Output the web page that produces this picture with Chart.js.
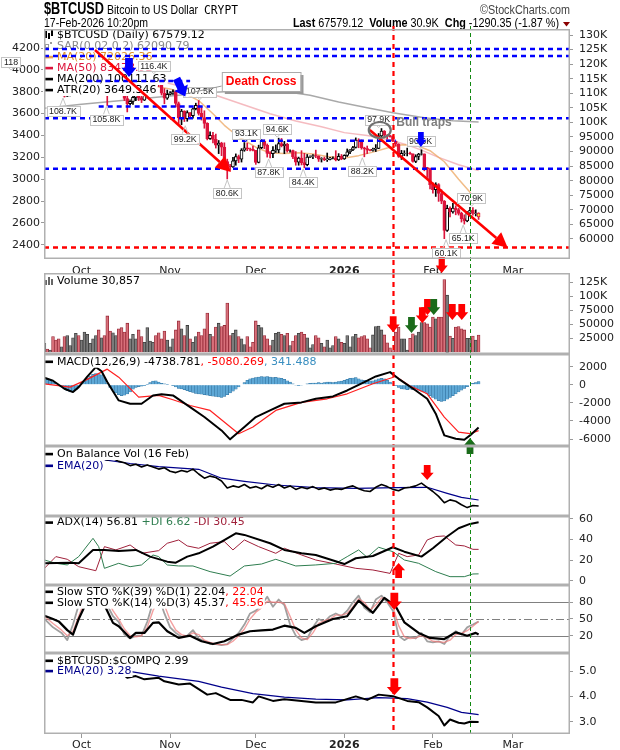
<!DOCTYPE html>
<html>
<head>
<meta charset="utf-8">
<title>$BTCUSD Daily</title>
<script src="https://cdn.jsdelivr.net/npm/chart.js@4.4.1/dist/chart.umd.min.js"></script>
<style>
  html, body { margin: 0; padding: 0; background: #fff; }
  #wrap { position: relative; width: 620px; height: 750px; overflow: hidden; background: #fff; }
  #wrap canvas { position: absolute; left: 0; }
</style>
</head>
<body>
<div id="wrap">
  <canvas id="cPrice" width="620" height="273" style="top:0;width:620px;height:273px"></canvas>
  <canvas id="cVol" width="620" height="81" style="top:273px;width:620px;height:81px"></canvas>
  <canvas id="cMacd" width="620" height="92" style="top:354px;width:620px;height:92px"></canvas>
  <canvas id="cObv" width="620" height="70" style="top:446px;width:620px;height:70px"></canvas>
  <canvas id="cAdx" width="620" height="76" style="top:509px;width:620px;height:76px"></canvas>
  <canvas id="cSto" width="620" height="68" style="top:585px;width:620px;height:68px"></canvas>
  <canvas id="cRel" width="620" height="97" style="top:653px;width:620px;height:97px"></canvas>
</div>
<script>
// ---- data (prices in thousands of USD, day 0 = 1-Oct-2025) ----
const startDay = -13;        // first candle: 18-Sep-2025
const firstOpen = 116.5;
const closes = [
  117.1, 115.7, 115.7, 115.3, 112.7, 112.0, 113.3, 109.0, 109.7, 109.7, 112.1, 114.4, 113.9,
  118.6, 120.6, 122.3, 122.4, 123.5, 124.8, 121.4, 123.3, 121.7, 113.2, 110.7, 115.0, 115.3, 113.0, 110.8, 108.2,
  106.4, 107.2, 108.6, 110.6, 108.5, 107.6, 110.1, 111.0, 111.6, 114.5, 114.1, 113.0, 110.0, 108.3, 109.6,
  110.1, 110.6, 106.5, 101.6, 103.9, 101.3, 103.4, 102.3, 104.7, 105.9, 103.1, 101.7, 99.7, 94.4, 95.6,
  94.2, 92.2, 92.9, 91.5, 86.6, 85.1, 84.7, 86.8, 88.3, 87.4, 90.5, 91.3, 90.9, 90.8, 90.4,
  86.3, 91.3, 93.5, 92.1, 89.4, 89.3, 90.4, 90.6, 92.7, 92.0, 92.5, 90.3, 90.3, 88.2, 86.4, 87.8,
  86.2, 85.5, 88.1, 88.3, 88.6, 88.5, 87.4, 87.6, 87.2, 87.3, 87.8, 87.8, 87.1, 88.4, 87.5,
  88.7, 89.9, 90.6, 91.4, 93.9, 93.7, 91.3, 91.0, 90.5, 90.4, 90.8, 91.1, 95.4, 97.0, 95.6, 95.5,
  95.1, 93.6, 92.6, 88.3, 89.4, 89.5, 89.5, 89.2, 86.6, 88.3, 89.1, 89.2, 84.5, 84.1, 78.6,
  76.9, 78.7, 75.6, 73.0, 62.9, 70.5, 69.3, 70.6, 70.1, 68.8, 67.0, 66.2, 68.9, 69.8, 68.8, 68.87, 67.58
];
const highs = [
  117.9, 117.5, 116.2, 115.9, 115.4, 113.3, 114.0, 113.4, 110.4, 109.9, 112.3, 114.5, 114.8,
  118.7, 121.0, 123.9, 122.9, 125.5, 126.1, 125.0, 124.1, 123.7, 122.5, 113.4, 115.5, 116.0, 115.6, 113.6, 111.1,
  109.2, 107.5, 109.5, 111.8, 114.0, 109.2, 111.3, 112.0, 111.9, 114.9, 116.4, 116.0, 113.6, 111.6, 111.1,
  110.6, 111.2, 110.7, 107.0, 104.5, 104.0, 104.0, 103.4, 105.0, 106.6, 107.5, 105.3, 104.0, 99.9, 96.8,
  96.6, 96.0, 93.8, 93.2, 93.0, 87.4, 85.6, 88.0, 89.2, 88.8, 91.0, 93.1, 92.9, 91.2, 91.9,
  90.4, 92.2, 94.1, 94.0, 92.6, 90.0, 91.7, 92.3, 94.6, 94.5, 93.5, 92.8, 90.6, 90.5, 90.0, 88.1,
  90.3, 89.4, 89.0, 88.5, 89.0, 90.5, 88.5, 87.9, 88.1, 89.5, 88.0, 88.2, 90.3, 89.3, 89.0,
  88.9, 90.9, 90.7, 91.8, 94.7, 94.4, 94.0, 91.5, 91.9, 90.8, 91.2, 92.4, 96.2, 97.9, 97.2, 95.8,
  95.6, 95.5, 93.6, 92.7, 90.4, 90.3, 91.2, 89.8, 89.2, 88.9, 89.4, 90.6, 89.2, 84.6, 84.3,
  79.3, 79.3, 79.0, 76.9, 73.2, 71.6, 71.0, 72.2, 71.4, 70.5, 69.2, 68.3, 69.4, 70.9, 70.8, 70.0, 69.0
];
const lows = [
  116.2, 115.2, 115.4, 115.0, 112.0, 111.1, 111.5, 108.7, 108.9, 109.1, 109.3, 111.6, 112.7,
  113.6, 118.2, 119.3, 121.7, 122.0, 123.0, 120.6, 121.1, 119.6, 105.8, 109.6, 109.7, 113.0, 110.0, 110.2, 107.5,
  103.6, 106.0, 106.2, 107.5, 107.5, 106.8, 107.5, 109.8, 110.8, 111.3, 113.8, 112.3, 109.4, 106.4, 107.9,
  109.4, 109.6, 105.3, 99.6, 99.2, 100.3, 100.4, 101.5, 101.5, 104.3, 102.5, 100.8, 98.0, 94.0, 94.2,
  93.0, 91.2, 89.3, 88.6, 86.3, 80.6, 83.5, 84.6, 85.3, 86.2, 86.4, 90.1, 90.3, 90.2, 90.2,
  85.6, 86.1, 91.0, 91.0, 88.1, 87.8, 87.9, 89.7, 89.6, 91.6, 89.3, 89.8, 89.8, 87.6, 85.3, 85.3,
  85.4, 84.4, 85.1, 87.9, 87.6, 87.9, 86.6, 86.4, 86.9, 86.6, 87.1, 87.5, 86.8, 86.9, 87.2,
  87.3, 88.3, 89.3, 90.3, 91.2, 91.3, 90.8, 88.2, 89.3, 90.2, 90.1, 90.0, 91.0, 94.8, 95.0, 94.3,
  94.9, 93.4, 91.9, 88.0, 87.3, 88.6, 88.5, 89.0, 86.4, 86.2, 87.2, 88.8, 83.4, 81.1, 77.2,
  75.7, 74.6, 72.9, 72.1, 60.1, 62.6, 67.6, 68.9, 68.3, 68.2, 65.8, 65.1, 65.9, 68.7, 68.2, 67.9, 66.7
];
// daily volume, thousands
const volumes = [
  16, 6, 4, 28, 22, 24, 10, 28, 30, 12, 26, 34, 30,
  22, 36, 32, 16, 24, 30, 40, 26, 30, 65, 38, 35, 30, 42, 44, 36,
  52, 24, 32, 24, 40, 28, 18, 44, 20, 18, 30, 35, 24, 38, 22,
  10, 24, 40, 56, 42, 30, 48, 24, 18, 28, 36, 30, 42, 70, 32,
  28, 45, 52, 46, 48, 88, 30, 34, 40, 28, 24, 14, 28, 10, 18,
  56, 48, 44, 30, 24, 12, 22, 34, 36, 32, 30, 34, 12, 20, 30, 34,
  36, 32, 26, 8, 14, 30, 26, 16, 10, 22, 8, 12, 28, 24, 18,
  16, 30, 10, 28, 32, 26, 28, 30, 24, 8, 31, 46, 47, 40, 31, 17,
  8, 3, 36, 45, 24, 24, 4, 25, 33, 30, 36, 53, 53, 51, 45,
  63, 60, 63, 63, 130, 102, 29, 25, 45, 46, 42, 40, 25, 25, 29, 22, 30.857
];
const macdHist = [
  700, 600, 450, 300, 150, 0, -200, -450, -650, -800, -750, -550, -250,
  100, 400, 700, 950, 1150, 1250, 1200, 1100, 800, 200, -300, -600, -900, -1100, -1200, -1150,
  -1000, -800, -500, -300, -200, -150, -100, 50, 250, 400, 450, 300, 150, 100, 50,
  0, -100, -250, -400, -450, -550, -650, -750, -850, -950, -1000, -1050, -1100, -1150, -1200,
  -1250, -1300, -1350, -1400, -1300, -1100, -900, -700, -500, -250, 0, 250, 500, 650, 750,
  800, 850, 900, 880, 900, 850, 800, 820, 780, 700, 600, 450, 300, 100, -50, -100,
  -50, 0, 100, 150, 200, 200, 250, 200, 250, 300, 300, 250, 300, 350, 400,
  500, 600, 700, 750, 800, 650, 550, 500, 450, 400, 450, 550, 650, 700, 650, 500,
  300, 100, -100, -300, -450, -500, -550, -500, -550, -500, -600, -700, -800, -1000, -1200,
  -1400, -1600, -1750, -1850, -1800, -1600, -1400, -1200, -1000, -800, -600, -400, -200, 0, 150, 250, 341
];
// [day, value] readings for the line studies
const ma20 = [[-13,113.5],[-5,114.5],[0,114.5],[5,116],[10,117.5],[15,116],[20,114],[25,112.5],[31,111.5],[36,110],[41,107.5],[46,103],[50,99],[55,95],[61,91.5],[66,89.5],[71,89.3],[76,89.6],[81,89.2],[86,88.3],[92,87.8],[97,88.6],[102,89.8],[107,91.2],[112,92.3],[117,92.2],[122,90.3],[127,86.5],[132,80.5],[136,76],[139,72.03]];
const ma50 = [[-13,112.5],[0,113],[10,114],[20,114.5],[30,113.5],[39,111.5],[48,109],[57,106],[66,103],[75,100.5],[84,98.5],[92,96.5],[100,95.5],[108,94],[114,92.3],[119,90.5],[125,88],[132,85.5],[139,83.48]];
const ma200 = [[-13,104.9],[0,106.2],[15,107.6],[30,109],[45,110.3],[60,111],[70,110.8],[80,109.3],[90,107],[100,105],[109,103.3],[120,101.6],[130,100.6],[139,100.11]];
const macdLine = [[-13,770],[-10,440],[-6,-440],[-3,-810],[-1,-260],[2,900],[5,1950],[7,1500],[9,300],[13,-1730],[17,-2100],[21,-2100],[25,-1180],[28,-1050],[32,-1180],[38,-2470],[43,-3570],[49,-5050],[52,-6040],[57,-4680],[61,-3570],[66,-2840],[71,-2100],[77,-1950],[82,-1550],[88,-1290],[93,-630],[99,290],[103,920],[108,1400],[111,660],[117,-630],[121,-1550],[124,-3200],[127,-5600],[131,-5970],[134,-6080],[136,-5600],[139,-4739]];
const macdSignal = [[-13,110],[-4,-260],[2,600],[9,1730],[13,840],[20,-1370],[27,-1180],[32,-1660],[38,-2290],[45,-2840],[55,-5410],[60,-4680],[68,-2840],[77,-1950],[86,-1550],[93,-1000],[102,110],[110,920],[115,-130],[121,-1000],[127,-3570],[132,-5230],[136,-5410],[139,-5080]];
const obv = [[-13,92],[-10,90],[-7,93],[-4,89],[-1,92],[2,88],[5,84],[7,82.4],[9,80],[11,82],[13,78],[15,76],[17,72],[19,74],[21,70],[23,73],[25,70],[27,67],[29,69],[31,64],[33,62],[35,65],[37,63],[39,67],[41,60],[43,54],[45,57],[47,55],[49,50],[51,40],[53,43],[55,41],[57,45],[59,40],[61,42],[63,39],[65,44],[67,41],[69,45],[71,40],[73,43],[75,38],[77,41],[79,39],[81,42],[83,38],[85,40],[87,37],[89,39],[91,38],[93,41],[95,43],[97,39],[99,36],[101,35],[103,41],[105,45],[107,42],[109,38],[111,36],[113,40],[115,41],[117,43],[119,47],[121,41],[123,35],[125,28],[127,19],[129,23],[131,21],[133,16],[135,12],[137,15],[139,14.3]];
const obvEma = [[-13,88],[-5,86],[5,82],[17,75],[27,70.5],[41,66.7],[49,54],[57,49.5],[68,44.3],[82,40.5],[96,39.5],[110,40.5],[121,41],[128,32.4],[133,26.7],[139,22.9]];
const adx = [[-13,16.9],[-4,17.5],[-1,16.9],[4,29.9],[8,29.9],[13,28.9],[19,29.9],[24,23.4],[30,18.5],[33,17.5],[37,23.4],[41,26.6],[46,33.1],[51,41.2],[54,46.1],[57,44.5],[66,36.4],[71,29.9],[77,26.6],[82,25],[92,16.2],[96,21.8],[102,24],[109,32.5],[113,28.2],[119,23.4],[123,31.5],[128,42.9],[132,51],[136,55.2],[139,56.81]];
const plusDI = [[-13,20.1],[-9,16.9],[-5,15.3],[-1,23.4],[4,41.2],[6,33.1],[8,12],[13,16.9],[17,13.6],[21,15.3],[25,25],[27,23.4],[30,15.3],[34,14.3],[39,14.3],[45,8.8],[52,4.5],[57,14.3],[63,16.2],[68,20.8],[75,14.3],[82,15.3],[89,16.9],[93,23.4],[97,29.9],[100,22.7],[104,32.5],[109,28.2],[113,20.1],[118,16.9],[124,8.8],[129,3.9],[134,3.9],[137,6.5],[139,6.62]];
const minusDI = [[-13,12],[-9,23.4],[-5,20.8],[-1,13.6],[5,9.7],[8,33.1],[12,29.9],[17,34.7],[21,26.6],[27,29.2],[30,36.4],[34,39.6],[37,33.8],[41,31.5],[45,36.4],[50,38],[53,29.9],[57,39.6],[62,33.1],[68,26.6],[71,31.5],[77,25],[82,20.1],[89,16.2],[96,12],[102,10.4],[108,7.1],[111,26.6],[114,23.4],[118,25],[121,39.6],[124,42.9],[127,43.5],[131,34.7],[134,33.8],[137,30.5],[139,30.45]];
const stoK39 = [[-13,56],[-10,50],[-8,45.7],[-5,30],[-3,21.8],[-1,50],[1,72],[3,88],[6,97],[8,75],[11,43],[13,37],[17,16],[19,25],[22,25],[25,43],[27,44],[30,28],[34,16],[38,20],[42,10],[46,5],[50,10],[55,22],[59,28],[63,29.5],[67,31],[71,38],[75,34],[78,25],[82,37],[88,50],[93,55],[97,83],[102,61],[106,88],[110,72.6],[113,44],[118,25],[122,16],[127,14],[131,26],[135,20],[138,25],[139,22.04]];
const stoK14 = [[-13,50],[-10,35],[-7,25],[-5,12],[-3,40],[-1,75],[1,95],[4,98],[7,96],[9,75],[11,55],[13,45],[15,22],[17,15],[19,20],[21,20],[23,45],[25,80],[27,90],[29,60],[31,35],[33,25],[35,18],[37,20],[39,30],[41,15],[43,10],[45,5],[47,5],[49,3],[51,5],[53,15],[55,25],[57,40],[59,60],[61,65],[63,75],[65,90],[67,72],[69,85],[71,75],[73,40],[75,20],[77,12],[79,15],[81,35],[83,50],[85,45],[87,55],[89,60],[91,55],[93,65],[95,80],[97,92],[99,70],[101,62],[103,85],[105,92],[107,80],[109,65],[111,20],[113,12],[115,18],[117,15],[119,25],[121,10],[123,8],[125,10],[127,5],[129,20],[131,28],[133,22],[135,35],[137,40],[139,45.37]];
const stoD14 = [[-13,55],[-10,42],[-7,30],[-5,20],[-3,28],[-1,55],[1,82],[4,96],[7,97],[9,85],[11,65],[13,50],[15,32],[17,20],[19,18],[21,20],[23,35],[25,65],[27,85],[29,75],[31,48],[33,30],[35,22],[37,19],[39,25],[41,22],[43,12],[45,8],[47,5],[49,4],[51,4],[53,10],[55,20],[57,32],[59,50],[61,62],[63,70],[65,82],[67,80],[69,80],[71,78],[73,55],[75,30],[77,16],[79,13],[81,25],[83,42],[85,47],[87,50],[89,57],[91,57],[93,60],[95,72],[97,86],[99,80],[101,66],[103,75],[105,88],[107,85],[109,72],[111,38],[113,18],[115,15],[117,16],[119,20],[121,16],[123,10],[125,9],[127,8],[129,12],[131,22],[133,24],[135,29],[137,37],[139,45.56]];
const ratio = [[-13,5.45],[-8,5.55],[-3,5.4],[2,5.5],[7,5.35],[11,5.2],[13,5.02],[16,4.75],[19,4.82],[22,4.69],[27,4.75],[29,4.61],[34,4.48],[38,4.52],[44,4.08],[47,4.14],[52,3.87],[56,3.87],[60,3.77],[62,4.01],[67,3.83],[71,3.9],[77,3.83],[82,3.77],[89,3.77],[92,3.87],[96,4.01],[100,3.87],[104,4.08],[109,4.02],[114,3.83],[118,3.78],[121,3.57],[125,3.23],[127,2.85],[129,3.09],[132,2.96],[134,2.93],[136,3.0],[139,2.99]];
const ratioEma = [[-13,5.2],[0,5.25],[13,5.08],[27,4.82],[41,4.61],[49,4.38],[60,4.12],[71,3.98],[82,3.9],[93,3.87],[104,3.96],[114,3.92],[121,3.78],[128,3.57],[133,3.37],[139,3.28]];

// axis ticks
const monthTicks = [0, 31, 61, 92, 123, 151];
const monthLabels = ['Oct', 'Nov', 'Dec', '2026', 'Feb', 'Mar'];
const priceTicks = [60, 65, 70, 75, 80, 85, 90, 95, 100, 105, 110, 115, 120, 125, 130];
const atrTicks = [2400, 2600, 2800, 3000, 3200, 3400, 3600, 3800, 4000, 4200];
const volTicks = [25, 50, 75, 100, 125];
const macdTicks = [-6000, -4000, -2000, 0, 2000];
const adxTicks = [0, 5, 10, 15, 20, 25, 30, 35, 40, 45, 50, 55, 60];
const stoTicks = [20, 50, 80];
const relTicks = [3.0, 3.5, 4.0, 4.5, 5.0, 5.5];

// annotations drawn on the price panel
const blueLevels = [125.2, 122.8, 114.2, 105.5, 101.4, 93.7, 84.1];
const blueFrom = [null, null, 2, 6, null, 53, null];
const blueTo = [null, null, 38, 45, null, 110, null];
const redLevel = 57.1;
const trendLines = [[[4.7, 124.85], [52.3, 83.0]], [[100.9, 97.4], [149.2, 57.0]]];
const tagDays = [-6.5, 8.7, 25.3, 36.3, 41.4, 51, 57.7, 65.5, 68.5, 77.6, 98.3, 104, 118.7, 127.6, 133.6, 136.5];
const tagPrices = [108.7, 105.8, 116.4, 99.2, 107.5, 80.6, 93.1, 87.8, 94.6, 84.4, 88.2, 97.9, 90.6, 60.1, 65.1, 70.9];
const tagAbove = [0, 0, 1, 0, 1, 0, 1, 0, 1, 0, 0, 1, 1, 0, 0, 1];
const signalDays = [109, 136];

const RED = '#dc143c';
const X_MIN = -13.15, X_MAX = 171.0;
const AXIS_W = 50;

Chart.defaults.font.family = "'DejaVu Sans', Verdana, sans-serif";
Chart.defaults.font.size = 11;
Chart.defaults.color = '#222';

const days = closes.map((c, i) => startDay + i);
const opens = closes.map((c, i) => i ? closes[i - 1] : firstOpen);
const isUp = closes.map((c, i) => c >= opens[i]);

function xScale(show, h, pad) {
  return {
    type: 'linear', min: X_MIN, max: X_MAX, offset: false, display: show,
    afterBuildTicks: s => { s.ticks = monthTicks.map(v => ({ value: v })); },
    afterFit: s => { s.height = h; s.paddingLeft = 0; s.paddingRight = 0; },
    grid: { display: pad < 2, drawOnChartArea: false, tickLength: 4, color: '#999' },
    border: { display: false },
    ticks: {
      autoSkip: false, maxRotation: 0, padding: pad, color: '#222',
      font: c => ({ size: 11, weight: c.tick && c.tick.value === 92 ? 'bold' : 'normal' }),
      callback: v => monthLabels[monthTicks.indexOf(v)]
    }
  };
}
function yScale(pos, min, max, ticks, fmt, width) {
  const right = pos === 'right';
  return {
    position: pos, min, max,
    afterBuildTicks: s => { s.ticks = ticks.map(v => ({ value: v })); },
    afterFit: s => { s.width = width; s.paddingTop = 0; s.paddingBottom = 0; },
    grid: { drawOnChartArea: false, tickLength: 3, color: '#999' },
    border: { display: false },
    ticks: { padding: right ? 6 : 1, color: '#222', callback: fmt }
  };
}
const line = (pts, color, width, order) => ({
  type: 'line', data: pts.map(p => ({ x: p[0], y: p[1] })), borderColor: color,
  borderWidth: width, pointRadius: 0, fill: false, tension: 0, order: order || 0, borderJoinStyle: 'round'
});
const kFmt = v => v >= 100 ? v + 'K' : String(v * 1000);

// ---- drawing helpers ----
function frame(chart) {
  const ctx = chart.ctx, a = chart.chartArea;
  ctx.save();
  ctx.strokeStyle = '#b0b0b0'; ctx.lineWidth = 1.5; ctx.setLineDash([]);
  ctx.strokeRect(a.left + 0.75, a.top + 0.75, a.right - a.left - 1.5, a.bottom - a.top - 1.5);
  ctx.restore();
}
function vlines(chart, y0, y1) {
  const ctx = chart.ctx, xs = chart.scales.x;
  ctx.save();
  signalDays.forEach((d, i) => {
    ctx.beginPath();
    ctx.strokeStyle = i ? '#118811' : '#ff0000';
    ctx.lineWidth = i ? 1 : 2.2;
    ctx.setLineDash(i ? [4, 3] : [5, 4]);
    const x = Math.round(xs.getPixelForValue(d)) + 0.5;
    ctx.moveTo(x, y0); ctx.lineTo(x, y1); ctx.stroke();
  });
  ctx.restore();
}
function legendRow(ctx, x, y, parts, marker) {
  ctx.save();
  ctx.font = "11px 'DejaVu Sans'";
  ctx.textBaseline = 'middle';
  const w = parts.reduce((s, p) => s + ctx.measureText(p[0]).width, 0);
  ctx.fillStyle = '#fff';
  ctx.fillRect(x - 2, y - 6, w + 15, 12);
  if (marker) marker(ctx, x, y);
  let cx = x + 12;
  parts.forEach(p => { ctx.fillStyle = p[1]; ctx.fillText(p[0], cx, y); cx += ctx.measureText(p[0]).width; });
  ctx.restore();
}
const dash = color => (ctx, x, y) => { ctx.fillStyle = color; ctx.fillRect(x, y - 1.2, 8, 2.6); };
function arrow(ctx, x, tip, dir, color, w, h, rot) {
  const hw = w / 2, sw = w * 0.26, hh = h * 0.48;
  ctx.save();
  ctx.translate(x, tip);
  if (rot) ctx.rotate(rot);
  ctx.beginPath();
  ctx.moveTo(0, 0);
  ctx.lineTo(-hw, -dir * hh); ctx.lineTo(-sw, -dir * hh); ctx.lineTo(-sw, -dir * h);
  ctx.lineTo(sw, -dir * h); ctx.lineTo(sw, -dir * hh); ctx.lineTo(hw, -dir * hh);
  ctx.closePath();
  ctx.fillStyle = color; ctx.fill();
  ctx.restore();
}
function fitText(ctx, text, x, y, w, font, color) {
  ctx.save();
  ctx.font = font;
  const m = ctx.measureText(text).width;
  ctx.translate(x, y); ctx.scale(w / m, 1);
  ctx.fillStyle = color; ctx.textBaseline = 'alphabetic'; ctx.textAlign = 'left';
  ctx.fillText(text, 0, 0);
  ctx.restore();
}
function priceTag(ctx, x, y, text, above) {
  ctx.save();
  ctx.font = "8.8px 'Liberation Sans'";
  const w = ctx.measureText(text).width + 5, h = 10;
  const top = above ? y - 4 - h : y + 9;
  ctx.strokeStyle = '#c4c4c4'; ctx.lineWidth = 1; ctx.setLineDash([]);
  ctx.beginPath();
  if (above) { ctx.moveTo(x - 3, top + h); ctx.lineTo(x, y - 1); ctx.lineTo(x + 3, top + h); }
  else { ctx.moveTo(x - 3, top); ctx.lineTo(x, y + 1); ctx.lineTo(x + 3, top); }
  ctx.stroke();
  ctx.fillStyle = '#fff';
  ctx.fillRect(x - w / 2, top, w, h);
  ctx.strokeRect(Math.round(x - w / 2) + 0.5, Math.round(top) + 0.5, Math.round(w), h);
  ctx.fillStyle = '#222'; ctx.textAlign = 'center'; ctx.textBaseline = 'middle';
  ctx.fillText(text, x, top + h / 2 + 0.5);
  ctx.restore();
}

// ---- price panel ----
const pricePlugin = {
  id: 'priceDeco',
  afterDraw(chart) {
    const ctx = chart.ctx, a = chart.chartArea;
    const X = d => chart.scales.x.getPixelForValue(d);
    const Y = v => chart.scales.y.getPixelForValue(v);
    // header
    fitText(ctx, '$BTCUSD', 44, 14, 60, "bold 16px 'Liberation Sans'", '#000');
    fitText(ctx, 'Bitcoin to US Dollar', 107, 14, 91, "13px 'Liberation Sans'", '#000');
    fitText(ctx, 'CRYPT', 204, 14, 34, "12px 'DejaVu Sans Mono'", '#000');
    fitText(ctx, '\u00A9StockCharts.com', 480, 14, 90, "12px 'Liberation Sans'", '#444');
    fitText(ctx, '17-Feb-2026 10:20pm', 44, 27, 104, "12px 'Liberation Sans'", '#000');
    const segs = [['Last', 1], [' 67579.12  ', 0], ['Volume', 1], [' 30.9K  ', 0], ['Chg', 1], [' -1290.35 (-1.87 %)', 0]];
    ctx.save();
    let tot = 0;
    segs.forEach(s => { ctx.font = (s[1] ? 'bold ' : '') + "12px 'Liberation Sans'"; tot += ctx.measureText(s[0]).width; });
    ctx.translate(293, 27); ctx.scale(266 / tot, 1);
    let cx = 0; ctx.fillStyle = '#000';
    segs.forEach(s => { ctx.font = (s[1] ? 'bold ' : '') + "12px 'Liberation Sans'"; ctx.fillText(s[0], cx, 0); cx += ctx.measureText(s[0]).width; });
    ctx.restore();
    ctx.save(); ctx.fillStyle = '#8b0000';
    ctx.beginPath(); ctx.moveTo(563, 22); ctx.lineTo(570, 22); ctx.lineTo(566.5, 26.5); ctx.closePath(); ctx.fill();
    ctx.restore();

    // legend
    legendRow(ctx, 45, 35, [['$BTCUSD (Daily) 67579.12', '#000']], (c, x, y) => {
      c.fillStyle = '#000';
      c.fillRect(x, y - 4, 2, 7); c.fillRect(x + 3, y - 2, 2, 6); c.fillRect(x + 6, y - 5, 2, 6);
    });
    legendRow(ctx, 45, 46, [['SAR(0.02,0.2) 62090.79', '#888']], (c, x, y) => {
      c.strokeStyle = '#999'; c.lineWidth = 1; c.strokeRect(x + 0.5, y - 1.5, 3, 3);
      c.fillStyle = '#999'; c.fillRect(x + 5, y - 4, 2, 2);
    });
    legendRow(ctx, 45, 57, [['MA(20) 72026.36', '#e0902a']], dash('#e8a050'));
    legendRow(ctx, 45, 68, [['MA(50) 83478.92', RED]], dash(RED));
    legendRow(ctx, 45, 79, [['MA(200) 100111.63', '#000']], dash('#000'));
    legendRow(ctx, 45, 90, [['ATR(20) 3649.346', '#000']], dash('#000'));

    // horizontal levels
    ctx.save();
    ctx.beginPath(); ctx.rect(a.left, a.top, a.right - a.left, a.bottom - a.top); ctx.clip();
    ctx.lineWidth = 2.5; ctx.setLineDash([5, 4]);
    blueLevels.forEach((v, i) => {
      const x0 = blueFrom[i] === null ? a.left : X(blueFrom[i]);
      const x1 = blueTo[i] === null ? a.right : X(blueTo[i]);
      ctx.strokeStyle = '#0000ff';
      ctx.beginPath(); ctx.moveTo(x0, Y(v)); ctx.lineTo(x1, Y(v)); ctx.stroke();
    });
    ctx.strokeStyle = '#ff0000';
    ctx.beginPath(); ctx.moveTo(a.left, Y(redLevel)); ctx.lineTo(a.right, Y(redLevel)); ctx.stroke();
    ctx.setLineDash([]);
    // trend lines with arrowheads
    trendLines.forEach(t => {
      const x0 = X(t[0][0]), y0 = Y(t[0][1]), x1 = X(t[1][0]), y1 = Y(t[1][1]);
      const ang = Math.atan2(y1 - y0, x1 - x0), L = 15, W = 7.5;
      const bx = x1 - L * Math.cos(ang), by = y1 - L * Math.sin(ang);
      ctx.strokeStyle = '#ff0000'; ctx.lineWidth = 2.6;
      ctx.beginPath(); ctx.moveTo(x0, y0); ctx.lineTo(bx, by); ctx.stroke();
      ctx.fillStyle = '#ff0000';
      ctx.beginPath(); ctx.moveTo(x1, y1);
      ctx.lineTo(bx + W * Math.sin(ang), by - W * Math.cos(ang));
      ctx.lineTo(bx - W * Math.sin(ang), by + W * Math.cos(ang));
      ctx.closePath(); ctx.fill();
    });
    ctx.restore();

    // swing labels
    tagDays.forEach((d, i) => priceTag(ctx, X(d), Y(tagPrices[i]), tagPrices[i].toFixed(1) + 'K', tagAbove[i]));
    priceTag(ctx, X(-24.7), Y(117.6), '118', 1);

    // Death Cross note
    ctx.save();
    const bx = X(49.1), by = Y(117.3);
    ctx.strokeStyle = '#999'; ctx.lineWidth = 1;
    ctx.beginPath(); ctx.moveTo(bx, by + 14); ctx.lineTo(X(36.5), Y(109.8)); ctx.stroke();
    ctx.font = "bold 12px 'Liberation Sans'";
    const tw = ctx.measureText('Death Cross').width + 8;
    ctx.fillStyle = '#999'; ctx.fillRect(bx + 3, by + 3, tw, 19);
    ctx.fillStyle = '#fff'; ctx.fillRect(bx, by, tw, 19);
    ctx.strokeStyle = '#aaa'; ctx.strokeRect(bx + 0.5, by + 0.5, tw, 19);
    ctx.fillStyle = '#ff0000'; ctx.textBaseline = 'middle';
    ctx.fillText('Death Cross', bx + 4, by + 10);
    // Bull traps
    ctx.strokeStyle = '#707070'; ctx.lineWidth = 2.2;
    ctx.beginPath(); ctx.ellipse(X(104.4), Y(97.4), 11, 8, 0, 0, Math.PI * 2); ctx.stroke();
    ctx.fillStyle = '#7f7f7f'; ctx.textBaseline = 'alphabetic';
    ctx.fillText('Bull traps', X(110.2), Y(98.8));
    ctx.restore();

    // arrows
    arrow(ctx, X(16.6), Y(115.6), 1, '#0000ff', 15, 19);
    arrow(ctx, X(36.3), Y(108.9), 1, '#0000ff', 15, 20, -0.45);
    arrow(ctx, X(118.8), Y(91.6), 1, '#0000ff', 11, 15);
    arrow(ctx, X(126.1), Y(48.3), 1, '#ff0000', 12, 16);

    vlines(chart, 26, chart.height);
    frame(chart);
  }
};

new Chart(document.getElementById('cPrice'), {
  type: 'bar',
  data: {
    datasets: [
      {
        type: 'bar', label: 'body', order: 0, grouped: false,
        data: days.map((d, i) => ({ x: d, y: [opens[i], closes[i]] })),
        backgroundColor: isUp.map((u, i) => i === closes.length - 1 ? '#ffee33' : (u ? '#fff' : RED)),
        borderColor: isUp.map(u => u ? '#000' : RED),
        borderWidth: 1, borderSkipped: false, barThickness: 3
      },
      {
        type: 'bar', label: 'wick', order: 1, grouped: false,
        data: days.map((d, i) => ({ x: d, y: [lows[i], highs[i]] })),
        backgroundColor: isUp.map(u => u ? '#000' : RED), barThickness: 1
      },
      line(ma20, 'rgba(236,165,95,0.75)', 1.5, 2),
      line(ma50, 'rgba(236,120,130,0.5)', 1.5, 3),
      line(ma200, 'rgba(140,140,140,0.75)', 1.5, 4)
    ]
  },
  options: {
    responsive: false, animation: false, devicePixelRatio: 1,
    layout: { padding: { top: 29, left: 0, right: 0, bottom: 0 } },
    plugins: { legend: { display: false }, tooltip: { enabled: false } },
    scales: {
      x: xScale(true, 14, 2),
      y: yScale('right', 53.13, 132.06, priceTicks, kFmt, AXIS_W),
      yl: yScale('left', 2270.4, 4373.8, atrTicks, v => String(v), 44)
    }
  },
  plugins: [pricePlugin]
});

// ---- volume panel ----
const volArrows = [[109.1, 36, '#ff0000'], [115.5, 34.5, '#1a6b1a'], [119.3, 52, '#ff0000'], [121.1, 66.6, '#ff0000'], [123.3, 66.6, '#1a6b1a'], [129.8, 57.7, '#ff0000'], [133.1, 57.7, '#ff0000']];
new Chart(document.getElementById('cVol'), {
  type: 'bar',
  data: {
    datasets: [{
      data: days.map((d, i) => ({ x: d, y: volumes[i] })),
      backgroundColor: isUp.map(u => u ? '#7c7c7c' : '#d8707a'),
      borderColor: isUp.map(u => u ? '#3c3c3c' : '#962a38'),
      borderWidth: 0.8, barPercentage: 1, categoryPercentage: 1, grouped: false
    }]
  },
  options: {
    responsive: false, animation: false, devicePixelRatio: 1,
    layout: { padding: { left: 44 } },
    plugins: { legend: { display: false }, tooltip: { enabled: false } },
    scales: { x: xScale(false, 0, 0), y: yScale('right', -3, 141.6, volTicks, kFmt, AXIS_W) }
  },
  plugins: [{
    id: 'volDeco',
    afterDraw(chart) {
      const ctx = chart.ctx, X = d => chart.scales.x.getPixelForValue(d), Y = v => chart.scales.y.getPixelForValue(v);
      legendRow(ctx, 45, 8, [['Volume 30,857', '#000']], (c, x, y) => {
        c.fillStyle = '#666'; c.fillRect(x, y - 1, 2, 5); c.fillRect(x + 3, y - 4, 2, 8); c.fillRect(x + 6, y - 2, 2, 6);
      });
      volArrows.forEach(v => arrow(ctx, X(v[0]), Y(v[1]), 1, v[2], 13, 16));
      vlines(chart, 0, chart.height);
      frame(chart);
    }
  }]
});

// ---- MACD panel ----
new Chart(document.getElementById('cMacd'), {
  type: 'bar',
  data: {
    datasets: [
      line(macdLine, '#000', 2, 0),
      line(macdSignal, '#ff2020', 1.2, 1),
      {
        type: 'bar', order: 2, grouped: false,
        data: days.map((d, i) => ({ x: d, y: macdHist[i] })),
        backgroundColor: '#5ea8d6', borderColor: '#2f6f9c', borderWidth: 0.5,
        barPercentage: 1, categoryPercentage: 1
      }
    ]
  },
  options: {
    responsive: false, animation: false, devicePixelRatio: 1,
    layout: { padding: { left: 44 } },
    plugins: { legend: { display: false }, tooltip: { enabled: false } },
    scales: { x: xScale(false, 0, 0), y: yScale('right', -6774, 3405, macdTicks, v => String(v), AXIS_W) }
  },
  plugins: [{
    id: 'macdDeco',
    afterDraw(chart) {
      const ctx = chart.ctx, X = d => chart.scales.x.getPixelForValue(d), Y = v => chart.scales.y.getPixelForValue(v);
      legendRow(ctx, 45, 7.7, [['MACD(12,26,9) -4738.781', '#000'], [', -5080.269', '#ff0000'], [', 341.488', '#3a8fc0']], dash('#000'));
      arrow(ctx, X(136), Y(-5889), -1, '#1a6b1a', 13, 16);
      vlines(chart, 0, chart.height);
      frame(chart);
    }
  }]
});

// ---- On Balance Volume panel ----
new Chart(document.getElementById('cObv'), {
  type: 'line',
  data: { datasets: [line(obv, '#000', 1.6, 0), line(obvEma, '#00008b', 1.2, 1)] },
  options: {
    responsive: false, animation: false, devicePixelRatio: 1,
    layout: { padding: { left: 44, right: AXIS_W } },
    plugins: { legend: { display: false }, tooltip: { enabled: false } },
    scales: { x: xScale(false, 0, 0), y: { display: false, min: 0, max: 100 } }
  },
  plugins: [{
    id: 'obvDeco',
    afterDraw(chart) {
      const ctx = chart.ctx, X = d => chart.scales.x.getPixelForValue(d), Y = v => chart.scales.y.getPixelForValue(v);
      legendRow(ctx, 45, 8, [['On Balance Vol (16 Feb)', '#000']], dash('#000'));
      legendRow(ctx, 45, 19.7, [['EMA(20)', '#00008b']], dash('#00008b'));
      arrow(ctx, X(121), Y(51.4), 1, '#ff0000', 13, 15);
      arrow(ctx, X(136), Y(111.4), -1, '#1a6b1a', 13, 16);
      vlines(chart, 0, chart.height);
      frame(chart);
    }
  }]
});

// ---- ADX panel (canvas starts 7px higher so the top label is not cut) ----
new Chart(document.getElementById('cAdx'), {
  type: 'line',
  data: { datasets: [line(adx, '#000', 2, 0), line(plusDI, '#2e7d4f', 1, 1), line(minusDI, '#a0203a', 1, 2)] },
  options: {
    responsive: false, animation: false, devicePixelRatio: 1,
    layout: { padding: { left: 44, top: 7 } },
    plugins: { legend: { display: false }, tooltip: { enabled: false } },
    scales: { x: xScale(false, 0, 0), y: yScale('right', -4.2, 62.9, adxTicks, v => v % 20 === 0 ? String(v) : '', AXIS_W) }
  },
  plugins: [{
    id: 'adxDeco',
    afterDraw(chart) {
      const ctx = chart.ctx, X = d => chart.scales.x.getPixelForValue(d), Y = v => chart.scales.y.getPixelForValue(v);
      legendRow(ctx, 45, 13.5, [['ADX(14) 56.81 ', '#000'], ['+DI 6.62 ', '#2e7d4f'], ['-DI 30.45', '#a0203a']], dash('#000'));
      arrow(ctx, X(111), Y(17.2), -1, '#ff0000', 13, 15);
      vlines(chart, 7, chart.height);
      frame(chart);
    }
  }]
});

// ---- Slow stochastics panel ----
new Chart(document.getElementById('cSto'), {
  type: 'line',
  data: { datasets: [line(stoK39, '#000', 2.2, 0), line(stoD14, 'rgba(240,120,120,0.7)', 1.4, 1), line(stoK14, '#a0a0a0', 1.8, 2)] },
  options: {
    responsive: false, animation: false, devicePixelRatio: 1,
    layout: { padding: { left: 44 } },
    plugins: { legend: { display: false }, tooltip: { enabled: false } },
    scales: { x: xScale(false, 0, 0), y: yScale('right', -11.1, 111.1, stoTicks, v => String(v), AXIS_W) }
  },
  plugins: [{
    id: 'stoDeco',
    beforeDatasetsDraw(chart) {
      const ctx = chart.ctx, a = chart.chartArea, Y = v => Math.round(chart.scales.y.getPixelForValue(v)) + 0.5;
      ctx.save();
      ctx.strokeStyle = '#808080'; ctx.lineWidth = 1;
      [80, 20].forEach(v => { ctx.beginPath(); ctx.moveTo(a.left, Y(v)); ctx.lineTo(a.right, Y(v)); ctx.stroke(); });
      ctx.setLineDash([8, 3, 2, 3]);
      ctx.beginPath(); ctx.moveTo(a.left, Y(50)); ctx.lineTo(a.right, Y(50)); ctx.stroke();
      ctx.restore();
    },
    afterDraw(chart) {
      const ctx = chart.ctx, X = d => chart.scales.x.getPixelForValue(d), Y = v => chart.scales.y.getPixelForValue(v);
      legendRow(ctx, 45, 6.7, [['Slow STO %K(39) %D(1) 22.04', '#000'], [', 22.04', '#ff0000']], dash('#000'));
      legendRow(ctx, 45, 17.7, [['Slow STO %K(14) %D(3) 45.37', '#000'], [', 45.56', '#ff0000']], dash('#000'));
      arrow(ctx, X(109.5), Y(66.7), 1, '#ff0000', 15, 17);
      vlines(chart, 0, chart.height);
      frame(chart);
    }
  }]
});

// ---- $BTCUSD:$COMPQ panel ----
new Chart(document.getElementById('cRel'), {
  type: 'line',
  data: { datasets: [line(ratio, '#000', 2, 0), line(ratioEma, '#00008b', 1.2, 1)] },
  options: {
    responsive: false, animation: false, devicePixelRatio: 1,
    layout: { padding: { left: 44 } },
    plugins: { legend: { display: false }, tooltip: { enabled: false } },
    scales: { x: xScale(true, 16, 1), y: yScale('right', 2.51, 5.74, relTicks, v => v.toFixed(1), AXIS_W) }
  },
  plugins: [{
    id: 'relDeco',
    afterDraw(chart) {
      const ctx = chart.ctx, X = d => chart.scales.x.getPixelForValue(d), Y = v => chart.scales.y.getPixelForValue(v);
      legendRow(ctx, 45, 7.7, [['$BTCUSD:$COMPQ 2.99', '#000']], dash('#000'));
      legendRow(ctx, 45, 18, [['EMA(20) 3.28', '#00008b']], dash('#00008b'));
      arrow(ctx, X(109.5), Y(4.06), 1, '#ff0000', 15, 17);
      vlines(chart, 0, chart.chartArea.bottom);
      frame(chart);
    }
  }]
});
</script>
</body>
</html>
